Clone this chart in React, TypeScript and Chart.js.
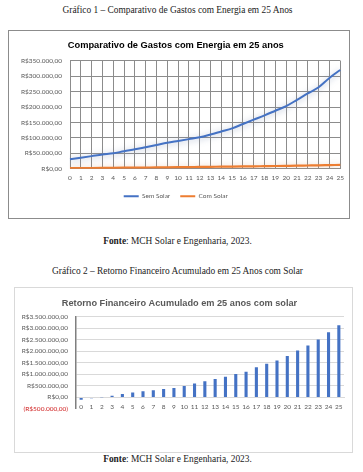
import React, { useEffect, useRef } from 'react';
import { Chart, registerables } from 'chart.js';

Chart.register(...registerables);

// ---------- data ----------
const years = ['0','1','2','3','4','5','6','7','8','9','10','11','12','13','14','15','16','17','18','19','20','21','22','23','24','25'];

const semSolar = [31000, 36000, 41000, 46000, 50000, 57000, 63000, 70000, 77000, 84000, 90000, 96000, 102000, 111000, 121000, 131000, 145000, 159000, 173000, 188000, 203000, 223000, 244000, 264000, 294000, 320000];
const comSolar = [2000, 2300, 2600, 2900, 3200, 3500, 3800, 4100, 4400, 4800, 5200, 5600, 6000, 6400, 6800, 7200, 7600, 8000, 8500, 9000, 9500, 10000, 10600, 11200, 11900, 12600];

const retorno = [-100000, -40000, 8000, 75000, 150000, 210000, 265000, 310000, 360000, 410000, 490000, 600000, 705000, 800000, 900000, 1010000, 1110000, 1310000, 1455000, 1600000, 1800000, 2030000, 2255000, 2515000, 2830000, 3130000];

const gastosTicks = [0, 50000, 100000, 150000, 200000, 250000, 300000, 350000];
const retornoTicks = [-500000, 0, 500000, 1000000, 1500000, 2000000, 2500000, 3000000, 3500000];

const seriesNames = ['Sem Solar', 'Com Solar'];
const title1 = 'Comparativo de Gastos com Energia em 25 anos';
const title2 = 'Retorno Financeiro Acumulado em 25 anos com solar';

// ---------- helpers ----------
function brl(v: number): string {
  const abs = Math.round(Math.abs(v));
  const intPart = abs.toString().replace(/\B(?=(\d{3})+(?!\d))/g, '.');
  const s = 'R$' + intPart + ',00';
  return v < 0 ? '(' + s + ')' : s;
}

const tickFont = { family: 'Lato', size: 6.5 };

const glowPlugin = {
  id: 'glow',
  beforeDatasetDraw(chart: any, args: any) {
    const ctx = chart.ctx;
    ctx.save();
    ctx.shadowColor = args.index === 0 ? 'rgba(110,130,170,0.55)' : 'rgba(200,140,100,0.5)';
    ctx.shadowBlur = 6;
    ctx.shadowOffsetX = 0;
    ctx.shadowOffsetY = 1;
  },
  afterDatasetDraw(chart: any) {
    chart.ctx.restore();
  },
};

function GastosChart() {
  const ref = useRef<HTMLCanvasElement | null>(null);
  useEffect(() => {
    if (!ref.current) return;
    const chart = new Chart(ref.current, {
      type: 'line',
      data: {
        labels: years,
        datasets: [
          { label: seriesNames[0], data: semSolar, borderColor: '#4472C4', backgroundColor: '#4472C4', borderWidth: 2, pointRadius: 0, pointStyle: 'line', cubicInterpolationMode: 'monotone' },
          { label: seriesNames[1], data: comSolar, borderColor: '#ED7D31', backgroundColor: '#ED7D31', borderWidth: 2.2, pointRadius: 0, pointStyle: 'line', cubicInterpolationMode: 'monotone' },
        ],
      },
      options: {
        animation: false,
        responsive: false,
        layout: { padding: { left: 0, right: 6.5, top: 0, bottom: 8.5 } },
        plugins: {
          title: { display: true, text: title1, color: '#000', font: { family: 'Liberation Sans', size: 9.3, weight: 'bold' }, padding: { top: 8.4, bottom: 10.1 } },
          legend: {
            position: 'bottom',
            labels: { usePointStyle: true, pointStyleWidth: 15, boxHeight: 7, color: '#595959', font: tickFont, padding: 10 },
          },
          tooltip: { enabled: false },
        },
        scales: {
          x: {
            grid: { color: '#8c8c8c', drawTicks: false },
            border: { color: '#8c8c8c' },
            ticks: { padding: 5, color: '#595959', font: tickFont, maxRotation: 0, autoSkip: false },
            afterFit: (s: any) => { s.height = 14.2; },
          },
          y: {
            min: 0,
            max: 350000,
            afterBuildTicks: (s: any) => { s.ticks = gastosTicks.map((v) => ({ value: v })); },
            grid: { color: '#8c8c8c', drawTicks: false },
            border: { color: '#8c8c8c' },
            ticks: { padding: 8, color: '#595959', font: tickFont, callback: (v: any) => brl(Number(v)) },
            afterFit: (s: any) => { s.width = 61; },
          },
        },
      },
      plugins: [glowPlugin],
    } as any);
    return () => chart.destroy();
  }, []);
  return <canvas ref={ref} width={340} height={187} style={{ display: 'block' }} />;
}

function RetornoChart() {
  const ref = useRef<HTMLCanvasElement | null>(null);
  useEffect(() => {
    if (!ref.current) return;
    const chart = new Chart(ref.current, {
      type: 'bar',
      data: {
        labels: years,
        datasets: [
          { label: 'Retorno', data: retorno, backgroundColor: '#4472C4', barPercentage: 0.3, categoryPercentage: 1 },
        ],
      },
      options: {
        animation: false,
        responsive: false,
        layout: { padding: { left: 0, right: 8, top: 0, bottom: 43.1 } },
        plugins: {
          title: { display: true, text: title2, color: '#595959', font: { family: 'Liberation Sans', size: 9.2, weight: 'bold' }, padding: { top: 9.5, bottom: 8.2 } },
          legend: { display: false },
          tooltip: { enabled: false },
        },
        scales: {
          x: {
            position: { y: 0 },
            grid: { display: false, drawTicks: false },
            border: { display: true, color: '#d9d9d9' },
            ticks: { padding: 6, color: '#595959', font: tickFont, maxRotation: 0, autoSkip: false },
          },
          y: {
            min: -500000,
            max: 3500000,
            afterBuildTicks: (s: any) => { s.ticks = retornoTicks.map((v) => ({ value: v })); },
            grid: { color: (c: any) => (c.tick && c.tick.value < 0 ? 'rgba(0,0,0,0)' : '#d9d9d9'), drawTicks: false },
            border: { color: '#7f7f7f', width: 1.5 },
            ticks: { padding: 8, font: tickFont, color: (c: any) => (c.tick && c.tick.value < 0 ? '#d02020' : '#595959'), callback: (v: any) => brl(Number(v)) },
            afterFit: (s: any) => { s.width = 61; },
          },
        },
      },
    } as any);
    return () => chart.destroy();
  }, []);
  return <canvas ref={ref} width={337} height={164} style={{ display: 'block' }} />;
}

const serif: React.CSSProperties = {
  position: 'absolute',
  left: 0,
  width: 355,
  textAlign: 'center',
  fontFamily: '"Liberation Serif", "DejaVu Serif", serif',
  fontSize: 9.4,
  lineHeight: '12px',
  color: '#222',
  whiteSpace: 'nowrap',
};

export default function App() {
  return (
    <div style={{ position: 'absolute', left: 0, top: 0, width: 363, height: 472, background: '#fff', overflow: 'hidden' }}>
      <div style={{ ...serif, top: 4 }}>Gráfico 1 – Comparativo de Gastos com Energia em 25 Anos</div>
      <div style={{ position: 'absolute', left: 8, top: 30, width: 342, height: 189, boxSizing: 'border-box', border: '1px solid #8c8c8c', background: '#fff' }}>
        <GastosChart />
      </div>
      <div style={{ ...serif, top: 235 }}><b>Fonte</b>: MCH Solar e Engenharia, 2023.</div>
      <div style={{ ...serif, top: 265 }}>Gráfico 2 – Retorno Financeiro Acumulado em 25 Anos com Solar</div>
      <div style={{ position: 'absolute', left: 14, top: 287, width: 339, height: 166, boxSizing: 'border-box', border: '1px solid #d9d9d9', background: '#fff' }}>
        <RetornoChart />
      </div>
      <div style={{ ...serif, top: 453 }}><b>Fonte</b>: MCH Solar e Engenharia, 2023.</div>
    </div>
  );
}
